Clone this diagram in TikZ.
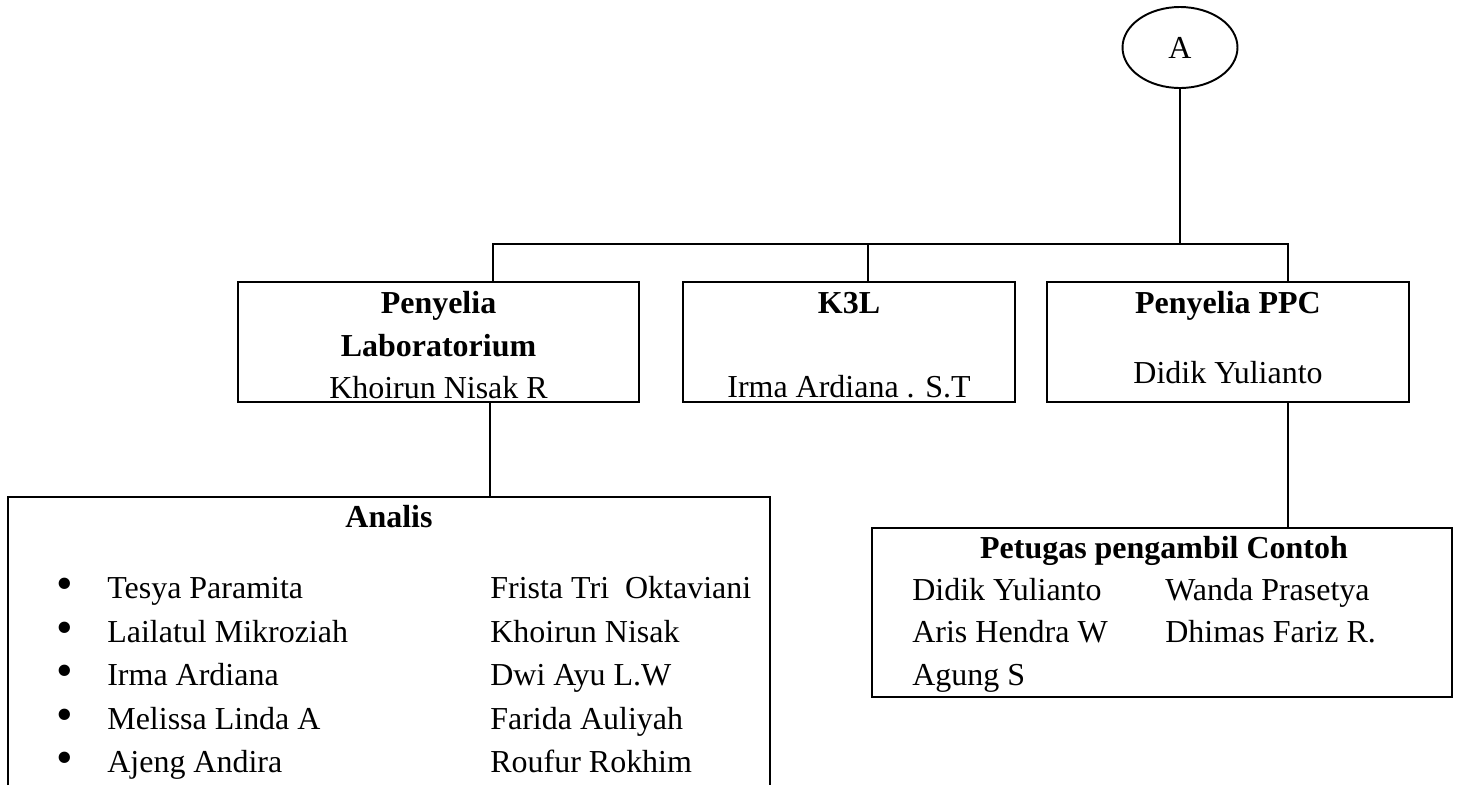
\documentclass[tikz,border=0pt]{standalone}
\usepackage{fontspec}
\setmainfont{Liberation Serif}
\usetikzlibrary{shapes.geometric}

\tikzset{
  garis/.style={line width=1.1pt},
  kotak/.style={draw, line width=1.1pt, inner sep=0pt},
  teks/.style={anchor=base, inner sep=0pt, font=\fontsize{18.2}{22}\selectfont},
  judul/.style={teks, font=\fontsize{18.2}{22}\selectfont\bfseries},
  butir/.style={anchor=center, inner sep=0pt, font=\fontsize{27}{30}\selectfont},
}

\begin{document}
\begin{tikzpicture}[x=0.02cm, y=-0.02cm]
			%%%%% START %%%%%
			\useasboundingbox (0, 0) rectangle (1458, 785);
			
			\node[kotak, ellipse, minimum width=2.3cm, minimum height=1.62cm, font=\fontsize{18.2}{22}\selectfont] (A) at (1180, 47.5) {A};
			
			\node[kotak, minimum width=8.02cm, minimum height=2.4cm] (lab) at (438.5, 342) {};
			\node[kotak, minimum width=6.64cm, minimum height=2.4cm] (k3l) at (849, 342) {};
			\node[kotak, minimum width=7.24cm, minimum height=2.4cm] (ppc) at (1228, 342) {};
			\node[kotak, minimum width=11.6cm, minimum height=3.38cm] (petugas) at (1162, 612.5) {};
			
			\coordinate (busL) at (493, 244);
			\coordinate (busM) at (868, 244);
			\coordinate (busR) at (1288, 244);
			\coordinate (anaTop) at (490, 497);
			
			% garis penghubung
			\draw[garis] (A.south) -- (A.south |- busR);
			\draw[garis] (busL |- lab.north) -- (busL) -- (busR) -- (busR |- ppc.north);
			\draw[garis] (busM) -- (busM |- k3l.north);
			\draw[garis] (anaTop |- lab.south) -- (anaTop);
			\draw[garis] (busR |- ppc.south) -- (busR |- petugas.north);
			
			% kotak analis (terpotong di bawah)
			\draw[garis] (8, 785) -- (8, 497) -- (770, 497) -- (770, 785);
			
			\node[judul] (labT1) at (438.5, 313) {Penyelia};
			\node[judul] (labT2) at (438.5, 356) {Laboratorium};
			\node[teks] (labN) at (438.5, 398) {Khoirun Nisak R};
			
			\node[judul] (k3lT) at (849, 313) {K3L};
			\node[teks] (k3lN) at (849, 397) {Irma Ardiana . S.T};
			
			\node[judul] (ppcT) at (1228, 313) {Penyelia PPC};
			\node[teks] (ppcN) at (1228, 383) {Didik Yulianto};
			
			\node[judul] (anaT) at (389, 527) {Analis};
			\node[butir] (b1) at (65, 589) {\textbullet};
			\node[butir] (b2) at (65, 633) {\textbullet};
			\node[butir] (b3) at (65, 676) {\textbullet};
			\node[butir] (b4) at (65, 720) {\textbullet};
			\node[butir] (b5) at (65, 763) {\textbullet};
			\node[teks, anchor=base west] (a1) at (107, 598) {Tesya Paramita};
			\node[teks, anchor=base west] (a2) at (107, 642) {Lailatul Mikroziah};
			\node[teks, anchor=base west] (a3) at (107, 685) {Irma Ardiana};
			\node[teks, anchor=base west] (a4) at (107, 729) {Melissa Linda A};
			\node[teks, anchor=base west] (a5) at (107, 772) {Ajeng Andira};
			\node[teks, anchor=base west] (a6) at (490, 598) {Frista Tri\ \ Oktaviani};
			\node[teks, anchor=base west] (a7) at (490, 642) {Khoirun Nisak};
			\node[teks, anchor=base west] (a8) at (490, 685) {Dwi Ayu L.W};
			\node[teks, anchor=base west] (a9) at (490, 729) {Farida Auliyah};
			\node[teks, anchor=base west] (a10) at (490, 772) {Roufur Rokhim};
			
			\node[judul] (petT) at (1164, 558) {Petugas pengambil Contoh};
			\node[teks, anchor=base west] (p1) at (912, 600) {Didik Yulianto};
			\node[teks, anchor=base west] (p2) at (912, 642) {Aris Hendra W};
			\node[teks, anchor=base west] (p3) at (912, 685) {Agung S};
			\node[teks, anchor=base west] (p4) at (1165, 600) {Wanda Prasetya};
			\node[teks, anchor=base west] (p5) at (1165, 642) {Dhimas Fariz R.};
			
			%%%%% END %%%%%
\end{tikzpicture}
\end{document}
